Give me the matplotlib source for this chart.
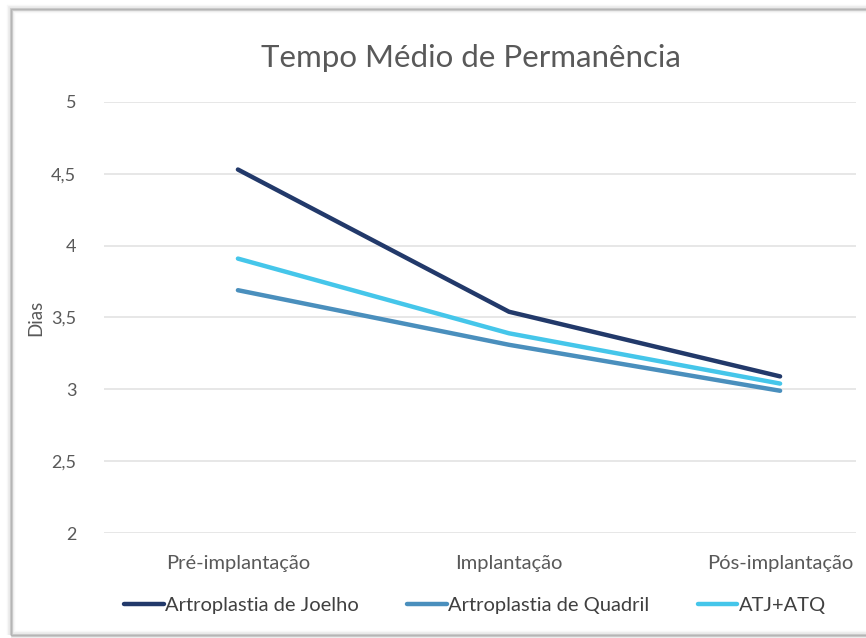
import numpy as np
import matplotlib.pyplot as plt
from matplotlib.patches import Rectangle
from matplotlib.ticker import FuncFormatter

plt.rcParams['font.family'] = ['Lato', 'DejaVu Sans']

# Tempo médio de permanência (dias) por fase
fases = ['Pré-implantação', 'Implantação', 'Pós-implantação']
joelho = [4.53, 3.54, 3.09]
quadril = [3.69, 3.31, 2.99]
atj_atq = [3.91, 3.39, 3.04]

series = [
    ('Artroplastia de Joelho', joelho, '#22396a'),
    ('Artroplastia de Quadril', quadril, '#4a8fbd'),
    ('ATJ+ATQ', atj_atq, '#45c6ea'),
]

fig = plt.figure(figsize=(8.66, 6.38), dpi=100)
W, H = 866, 638

# moldura com sombra leve
for lw, a in [(6, 0.06), (4, 0.10), (2.2, 0.25)]:
    fig.patches.append(Rectangle((11 / W, 1 - 635 / H), 1.2, (635 - 9) / H,
                                 transform=fig.transFigure, fill=False,
                                 edgecolor='#7f7f7f', lw=lw, alpha=a))
fig.patches.append(Rectangle((11 / W, 1 - 635 / H), 1.2, (635 - 9) / H,
                             transform=fig.transFigure, fill=False,
                             edgecolor='#b5b5b5', lw=1.0))

ax = fig.add_axes([104 / W, 1 - 533 / H, (856 - 104) / W, (533 - 102) / H])
x = np.arange(len(fases))
for nome, vals, cor in series:
    ax.plot(x, vals, color=cor, lw=3.2, label=nome, solid_capstyle='round')

ax.set_ylim(2, 5)
ax.set_yticks(np.arange(2, 5.01, 0.5))
ax.yaxis.set_major_formatter(FuncFormatter(lambda v, p: f'{v:g}'.replace('.', ',')))
ax.set_xlim(-0.494, 2.28)
ax.set_xticks(x)
ax.set_xticklabels(fases)
ax.grid(axis='y', color='#e3e3e3', lw=1.2)
ax.set_axisbelow(True)
for s in ax.spines.values():
    s.set_visible(False)
ax.tick_params(length=0, colors='#595959')
ax.tick_params(axis='y', pad=20, labelsize=13)
ax.tick_params(axis='x', pad=16, labelsize=14.5)
ax.set_ylabel('Dias', fontsize=13.5, color='#595959')
ax.yaxis.set_label_coords(-60 / 752, 0.5)

fig.text(471 / W, 1 - 58 / H, 'Tempo Médio de Permanência', ha='center', va='center',
         fontsize=22.5, color='#595959')

fig.legend(loc='center', bbox_to_anchor=(475 / W, 1 - 605 / H), ncol=3, frameon=False,
           fontsize=14.5, handlelength=1.95, handletextpad=0.08, columnspacing=2.4,
           labelcolor='#404040')

fig.savefig('out.png', dpi=100)
